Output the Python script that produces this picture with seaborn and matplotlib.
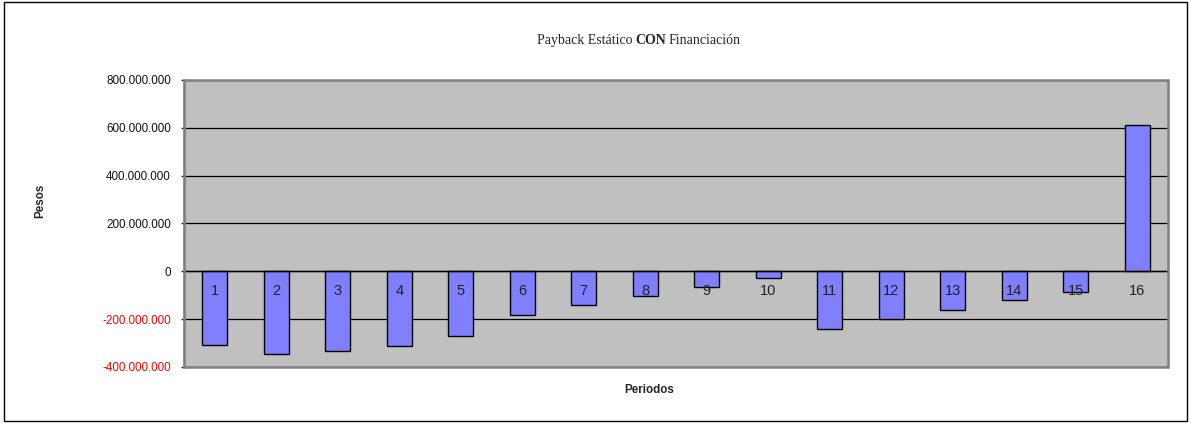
import matplotlib
matplotlib.use("Agg")
import matplotlib.pyplot as plt
import matplotlib.ticker as mticker
from matplotlib.patches import Rectangle
import seaborn as sns
import pandas as pd

# datos (pesos por periodo)
periodos = [str(i) for i in range(1, 17)]
valores = [-310e6, -344e6, -333e6, -311e6, -272e6, -181e6, -140e6, -104e6,
           -65e6, -27e6, -243e6, -201e6, -161e6, -122e6, -85e6, 610e6]
yticks = [-400e6, -200e6, 0, 200e6, 400e6, 600e6, 800e6]

df = pd.DataFrame({'Periodo': periodos, 'Pesos': valores})

sns.set_style("white")
plt.rcParams['font.family'] = ['Liberation Sans', 'DejaVu Sans']

fig = plt.figure(figsize=(11.91, 4.23), dpi=100)
ax = fig.add_axes([0.1545, 0.1324, 0.8262, 0.6786])
ax.set_facecolor('#C0C0C0')

sns.barplot(data=df, x='Periodo', y='Pesos', order=periodos, color='#8080FF',
            saturation=1, width=0.41, edgecolor='black', linewidth=1, ax=ax, zorder=3)

ax.set_xlim(-0.5, 15.5)
ax.set_ylim(-400e6, 800e6)
ax.set_yticks(yticks)
ax.yaxis.set_major_formatter(mticker.FuncFormatter(lambda v, p: f"{int(round(v)):,}".replace(",", ".")))
ax.grid(axis='y', color='black', linewidth=0.9)
ax.yaxis.set_zorder(1)

# eje x en el cero, como en excel (etiquetas encima de las barras)
ax.spines['bottom'].set_position(('data', 0))
ax.spines['bottom'].set_color('black')
ax.spines['bottom'].set_linewidth(1)
ax.spines['bottom'].set_zorder(4)
ax.xaxis.set_zorder(6)
ax.spines['left'].set_color('black')
ax.spines['left'].set_linewidth(1)
ax.spines['top'].set_visible(False)
ax.spines['right'].set_visible(False)
ax.add_patch(Rectangle((0, 0), 1, 1, transform=ax.transAxes, fill=False,
                       edgecolor='#808080', linewidth=1.8, zorder=5, clip_on=False))

ax.set_xticks(range(16))
ax.set_xticklabels(periodos)
ax.tick_params(axis='x', which='major', length=0, pad=9, labelsize=10.5, colors='#222222')
ax.set_xticks([i + 0.5 for i in range(16)], minor=True)
ax.tick_params(axis='x', which='minor', length=3.5, width=1, direction='out', color='#222222')
ax.tick_params(axis='y', length=2.5, width=1, pad=7, labelsize=8.4, left=True)
for t, v in zip(ax.get_yticklabels(), yticks):
    t.set_color('#FF0000' if v < 0 else '#111111')
ax.set_xlabel('')
ax.set_ylabel('')

fig.text(0.034, 0.525, 'Pesos', rotation=90, fontsize=8.4, fontweight='bold', ha='center', va='center')
fig.text(0.545, 0.077, 'Periodos', fontsize=8.4, fontweight='bold', ha='center', va='center')

# titulo con CON en negrita
t1 = ax.annotate('Payback Estático', xy=(0.451, 0.905), xycoords='figure fraction',
                 fontsize=10, family='Liberation Serif', ha='left', va='center')
t2 = ax.annotate('CON', xy=(1, 0), xycoords=t1, xytext=(2, 0), textcoords='offset points',
                 fontsize=10, family='Liberation Serif', fontweight='bold', ha='left', va='bottom')
t3 = ax.annotate('Financiación', xy=(1, 0), xycoords=t2, xytext=(2, 0), textcoords='offset points',
                 fontsize=10, family='Liberation Serif', ha='left', va='bottom')

fig.add_artist(Rectangle((0.003, 0.005), 0.994, 0.99, transform=fig.transFigure,
                         fill=False, edgecolor='black', linewidth=1))

fig.savefig('out.png', dpi=100)
